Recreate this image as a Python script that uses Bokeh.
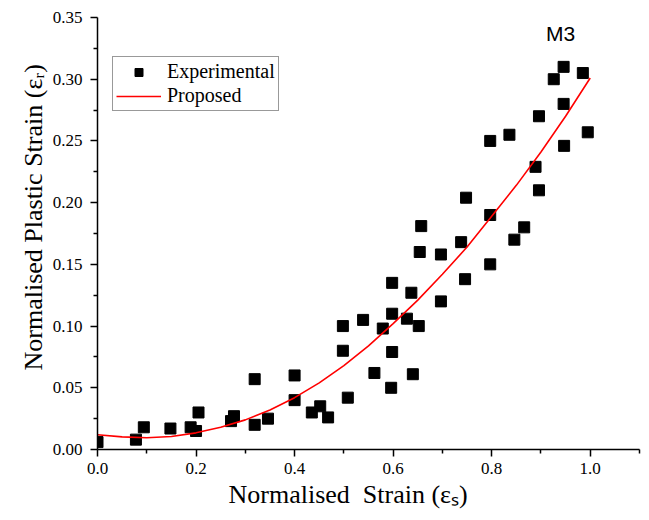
from bokeh.plotting import figure
from bokeh.models import FixedTicker, Legend, LegendItem, Label, ColumnDataSource, Title
from bokeh.embed import file_html
from bokeh.resources import INLINE

exp_x = [0.0, 0.078, 0.094, 0.148, 0.189, 0.20, 0.205, 0.271, 0.277, 0.319, 0.319, 0.346,
         0.40, 0.40, 0.435, 0.452, 0.468, 0.498, 0.498, 0.508, 0.539, 0.562, 0.579,
         0.598, 0.598, 0.598, 0.596, 0.628, 0.637, 0.640, 0.652, 0.654, 0.657, 0.697,
         0.697, 0.738, 0.746, 0.748, 0.797, 0.797, 0.797, 0.836, 0.846, 0.866, 0.889,
         0.896, 0.896, 0.926, 0.946, 0.946, 0.947, 0.985, 0.995]
exp_y = [0.006, 0.008, 0.018, 0.017, 0.018, 0.015, 0.030, 0.023, 0.027, 0.057, 0.020, 0.025,
         0.060, 0.040, 0.030, 0.035, 0.026, 0.100, 0.080, 0.042, 0.105, 0.062, 0.098,
         0.135, 0.110, 0.079, 0.050, 0.106, 0.127, 0.061, 0.100, 0.160, 0.181, 0.158,
         0.120, 0.168, 0.138, 0.204, 0.250, 0.190, 0.150, 0.255, 0.170, 0.180, 0.229,
         0.270, 0.210, 0.300, 0.310, 0.280, 0.246, 0.305, 0.257]

# Proposed model curve
prop_x = [0.0, 0.05, 0.10, 0.15, 0.20, 0.25, 0.30, 0.35, 0.40, 0.45, 0.50,
          0.55, 0.60, 0.65, 0.70, 0.75, 0.80, 0.85, 0.90, 0.95, 1.0]
prop_y = [0.012, 0.0102, 0.0095, 0.0105, 0.0135, 0.018, 0.024, 0.032, 0.042, 0.054, 0.068,
          0.084, 0.102, 0.121, 0.142, 0.164, 0.189, 0.214, 0.241, 0.270, 0.301]

x_ticks = [0.0, 0.2, 0.4, 0.6, 0.8, 1.0]
x_tick_labels = ["0.0", "0.2", "0.4", "0.6", "0.8", "1.0"]
x_minor = [0.1, 0.3, 0.5, 0.7, 0.9, 1.1]
y_ticks = [0.0, 0.05, 0.10, 0.15, 0.20, 0.25, 0.30, 0.35]
y_tick_labels = ["0.00", "0.05", "0.10", "0.15", "0.20", "0.25", "0.30", "0.35"]
y_minor = [0.025, 0.075, 0.125, 0.175, 0.225, 0.275, 0.325]

x_title = "Normalised\u00a0 Strain (\u03b5\u209b)"
y_title = "Normalised Plastic Strain (\u03b5\u1d63)"
panel_title = "M3"

SERIF = "Liberation Serif"

p = figure(width=649, height=520, x_range=(0, 1.1), y_range=(0, 0.35),
           output_backend="svg", toolbar_location=None,
           min_border_left=97, min_border_right=10, min_border_top=17, min_border_bottom=71)
p.outline_line_color = None
p.xgrid.visible = False
p.ygrid.visible = False
p.background_fill_color = "white"
p.border_fill_color = "white"

src_exp = ColumnDataSource(dict(x=exp_x, y=exp_y))
src_prop = ColumnDataSource(dict(x=prop_x, y=prop_y))

r_exp = p.scatter("x", "y", source=src_exp, marker="square", size=11,
                  fill_color="black", line_color="black")
r_prop = p.line("x", "y", source=src_prop, line_color="#ff0000", line_width=1.6)

for ax, ticks, labels, minor in ((p.xaxis[0], x_ticks, x_tick_labels, x_minor),
                                 (p.yaxis[0], y_ticks, y_tick_labels, y_minor)):
    ax.ticker = FixedTicker(ticks=ticks, minor_ticks=minor)
    ax.major_label_overrides = {t: l for t, l in zip(ticks, labels)}
    ax.axis_line_color = "black"
    ax.axis_line_width = 1.5
    ax.major_tick_line_color = "black"
    ax.major_tick_line_width = 1.5
    ax.minor_tick_line_color = "black"
    ax.minor_tick_line_width = 1.5
    ax.major_tick_in = 0
    ax.major_tick_out = 7
    ax.minor_tick_in = 0
    ax.minor_tick_out = 4
    ax.major_label_text_font = SERIF
    ax.major_label_text_font_size = "17px"
    ax.major_label_text_color = "black"

p.xaxis[0].major_label_standoff = 6
p.yaxis[0].major_label_standoff = 8

# Axis titles, placed like the reference (slightly off the frame centre)
p.add_layout(Title(text=x_title, align="left", offset=131, standoff=2,
                   text_font=SERIF, text_font_size="26px", text_font_style="normal",
                   text_color="black"), "below")
p.add_layout(Title(text=y_title, align="left", offset=79, standoff=4,
                   text_font=SERIF, text_font_size="26px", text_font_style="normal",
                   text_color="black"), "left")

legend = Legend(items=[LegendItem(label="Experimental", renderers=[r_exp]),
                       LegendItem(label="Proposed", renderers=[r_prop])],
                location=(15, 338))
legend.label_text_font = SERIF
legend.label_text_font_size = "20px"
legend.label_text_color = "black"
legend.label_height = 20
legend.glyph_height = 20
legend.glyph_width = 45
legend.label_standoff = 6
legend.spacing = 1
legend.padding = 3
legend.margin = 0
legend.border_line_color = "#333333"
legend.border_line_width = 1
legend.background_fill_alpha = 1.0
p.add_layout(legend)

p.add_layout(Label(x=0.94, y=0.337, text=panel_title, text_font="Liberation Sans",
                   text_font_size="21px", text_color="black",
                   text_align="center", text_baseline="middle"))

open("out.html", "w").write(file_html(p, INLINE))
